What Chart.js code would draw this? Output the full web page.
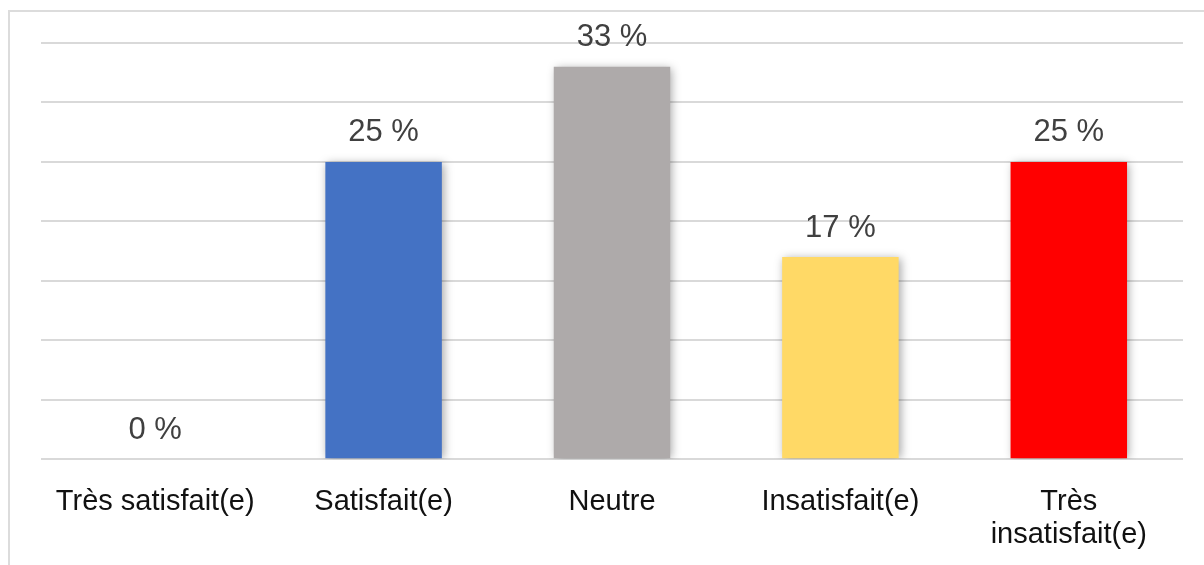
<!DOCTYPE html>
<html>
<head>
<meta charset="utf-8">
<script src="https://cdn.jsdelivr.net/npm/chart.js@4"></script>
<style>
  html,body{margin:0;padding:0;background:#fff;}
  #wrap{position:relative;width:1204px;height:565px;overflow:hidden;}
  #frame{position:absolute;left:8px;top:10px;width:1300px;height:700px;border-left:2px solid #dcdcdc;border-top:2px solid #dcdcdc;}
  #c{position:absolute;left:0;top:0;}
</style>
</head>
<body>
<div id="wrap">
  <div id="frame"></div>
  <canvas id="c" width="1204" height="565"></canvas>
</div>
<script>
// ----- data -----
const categories = ["Très satisfait(e)", "Satisfait(e)", "Neutre", "Insatisfait(e)", ["Très", "insatisfait(e)"]];
const values = [0, 25, 33, 17, 25];
const valueLabels = ["0 %", "25 %", "33 %", "17 %", "25 %"];
const barColors = ["#d0cece", "#4472c4", "#aeaaaa", "#ffd966", "#ff0000"];
const yTicks = [0, 5, 10, 15, 20, 25, 30, 35];

const FONT = "'Liberation Sans', Arial, sans-serif";

// soft office-like shadow behind bars
const barShadow = {
  id: "barShadow",
  beforeDatasetDraw(chart){
    const ctx = chart.ctx;
    ctx.save();
    ctx.shadowColor = "rgba(0,0,0,0.35)";
    ctx.shadowBlur = 9;
    ctx.shadowOffsetX = 2;
    ctx.shadowOffsetY = 1;
  },
  afterDatasetDraw(chart){ chart.ctx.restore(); }
};

// value labels above bars
const valueLabelPlugin = {
  id: "valueLabels",
  afterDatasetsDraw(chart){
    const ctx = chart.ctx;
    const meta = chart.getDatasetMeta(0);
    ctx.save();
    ctx.font = "31px " + FONT;
    ctx.fillStyle = "#404040";
    ctx.textAlign = "center";
    ctx.textBaseline = "middle";
    meta.data.forEach((bar, i)=>{
      ctx.fillText(valueLabels[i], bar.x, bar.y - 29);
    });
    ctx.restore();
  }
};

new Chart(document.getElementById("c"), {
  type: "bar",
  data: {
    labels: categories,
    datasets: [{
      data: values,
      backgroundColor: barColors,
      borderWidth: 0,
      barPercentage: 0.68,
      categoryPercentage: 0.75
    }]
  },
  options: {
    responsive: false,
    animation: false,
    layout: { padding: { left: 41, right: 21, top: 43, bottom: -13 } },
    plugins: { legend: { display: false }, tooltip: { enabled: false } },
    scales: {
      x: {
        grid: { display: false, drawTicks: false },
        border: { display: false },
        ticks: {
          color: "#111",
          font: { family: FONT, size: 29, lineHeight: 1.15 },
          padding: 26,
          maxRotation: 0,
          autoSkip: false
        }
      },
      y: {
        min: 0,
        max: yTicks[yTicks.length - 1],
        afterBuildTicks(scale){ scale.ticks = yTicks.map(v=>({value:v})); },
        grid: { color: "#d9d9d9", lineWidth: 2, drawTicks: false },
        border: { display: false },
        ticks: { display: false }
      }
    }
  },
  plugins: [barShadow, valueLabelPlugin]
});
</script>
</body>
</html>
